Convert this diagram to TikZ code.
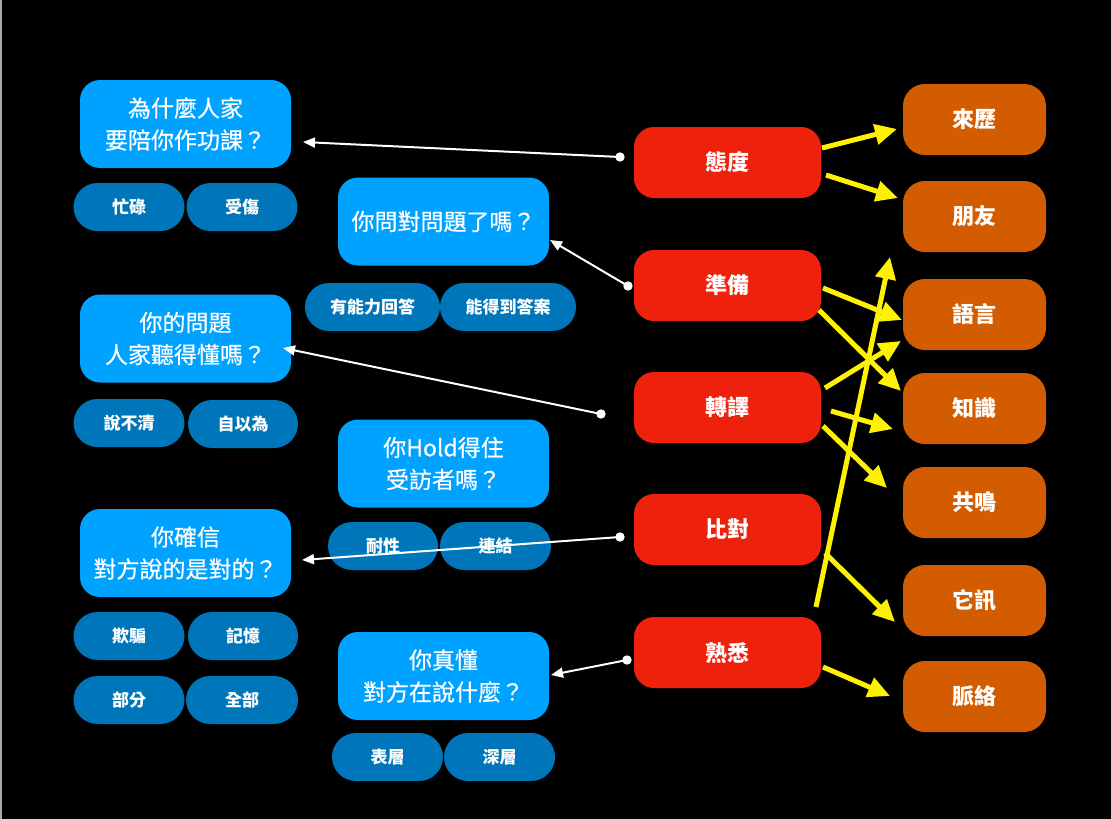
\documentclass[tikz,border=0pt]{standalone}
\usepackage{fontspec}
\setmainfont{Noto Sans CJK TC}
\newfontfamily\medfont[FakeBold=0.5]{Noto Sans CJK TC}
\usetikzlibrary{arrows.meta}
\definecolor{bigblue}{HTML}{00A2FF}
\definecolor{pillblue}{HTML}{0076BA}
\definecolor{redc}{HTML}{EE220C}
\definecolor{orangec}{HTML}{D45C00}
\definecolor{edgegray}{HTML}{A8A8A8}
\begin{document}
\begin{tikzpicture}[x=1pt,y=-1pt,
  bigbox/.style={fill=bigblue, rounded corners=20pt, minimum width=211pt, minimum height=88pt, text=white, align=center, inner sep=0pt, font=\medfont\fontsize{23}{32}\selectfont},
  pill/.style={fill=pillblue, rounded corners=24pt, minimum width=111pt, minimum height=48pt, text=white, inner sep=0pt, font=\bfseries\fontsize{17}{20}\selectfont},
  widepill/.style={pill, minimum width=135pt},
  redbox/.style={fill=redc, rounded corners=20pt, minimum width=187pt, minimum height=71pt, text=white, inner sep=0pt, font=\bfseries\fontsize{22}{26}\selectfont},
  orangebox/.style={fill=orangec, rounded corners=22pt, minimum width=143pt, minimum height=71pt, text=white, inner sep=0pt, font=\bfseries\fontsize{22}{26}\selectfont},
  wline/.style={draw=white, line width=2pt, -{Triangle[length=12pt,width=10pt]}},
  yline/.style={draw=yellow, line width=5pt, -{Triangle[length=22pt,width=20pt]}},
  wdot/.style={fill=white}
]
\useasboundingbox (0,0) rectangle (1111,819);
\fill[black] (0,0) rectangle (1111,819);
\fill[edgegray] (0,0) rectangle (2,819);

% big blue boxes
\node[bigbox] (b1) at (185.5,124) {為什麼人家\\要陪你作功課？};
\node[bigbox] (b2) at (443.5,221.5) {你問對問題了嗎？};
\node[bigbox] (b3) at (185.5,338.5) {你的問題\\人家聽得懂嗎？};
\node[bigbox] (b4) at (443.5,463.5) {你Hold得住\\受訪者嗎？};
\node[bigbox] (b5) at (185.5,553) {你確信\\對方說的是對的？};
\node[bigbox] (b6) at (443.5,676) {你真懂\\對方在說什麼？};

% pills
\node[pill] (p1) at (129,207) {忙碌};
\node[pill] (p2) at (242,207) {受傷};
\node[widepill] (p3) at (372.5,307) {有能力回答};
\node[widepill, minimum width=136pt] (p4) at (508,307) {能得到答案};
\node[pill] (p5) at (129,423) {說不清};
\node[pill, minimum width=110pt] (p6) at (243,424) {自以為};
\node[pill, minimum width=110pt] (p7) at (383,546) {耐性};
\node[pill] (p8) at (495.5,546) {連結};
\node[pill] (p9) at (129,636) {欺騙};
\node[pill, minimum width=110pt] (p10) at (243,636) {記憶};
\node[pill] (p11) at (129,700) {部分};
\node[pill, minimum width=112pt] (p12) at (242,700) {全部};
\node[pill] (p13) at (387.5,757) {表層};
\node[pill] (p14) at (499.5,757) {深層};

% red boxes
\node[redbox] (r1) at (727.5,162.5) {態度};
\node[redbox] (r2) at (727.5,285.5) {準備};
\node[redbox] (r3) at (727.5,407.5) {轉譯};
\node[redbox] (r4) at (727.5,529.5) {比對};
\node[redbox] (r5) at (727.5,652.5) {熟悉};

% orange boxes
\node[orangebox] (o1) at (974.5,119.5) {來歷};
\node[orangebox] (o2) at (974.5,216.5) {朋友};
\node[orangebox] (o3) at (974.5,314.5) {語言};
\node[orangebox] (o4) at (974.5,408.5) {知識};
\node[orangebox] (o5) at (974.5,502.5) {共鳴};
\node[orangebox] (o6) at (974.5,600.5) {它訊};
\node[orangebox] (o7) at (974.5,696.5) {脈絡};

% white connector ends
\coordinate (d1) at (620,157);  \coordinate (e1) at (303,142);
\coordinate (d2) at (628,286);  \coordinate (e2) at (550,240);
\coordinate (d3) at (601,414);  \coordinate (e3) at (283,348);
\coordinate (d4) at (620,537);  \coordinate (e4) at (302,560);
\coordinate (d5) at (627,660);  \coordinate (e5) at (551,675);

\draw[wline] (d1) -- (e1);
\draw[wline] (d2) -- (e2);
\draw[wline] (d3) -- (e3);
\draw[wline] (d4) -- (e4);
\draw[wline] (d5) -- (e5);
\foreach \d in {d1,d2,d3,d4,d5} \fill[wdot] (\d) circle (4.7pt);

% yellow connectors
\coordinate (ys1) at (822,148); \coordinate (yt1) at (897,129);
\coordinate (ys2) at (826,175); \coordinate (yt2) at (898,198);
\coordinate (ys3) at (823,288); \coordinate (yt3) at (902,320);
\coordinate (ys4) at (819,310); \coordinate (yt4) at (901,391);
\coordinate (ys5) at (825,388); \coordinate (yt5) at (901,341);
\coordinate (ys6) at (831,411); \coordinate (yt6) at (893,429);
\coordinate (ys7) at (823,426); \coordinate (yt7) at (887,488);
\coordinate (ys8) at (816,607); \coordinate (yt8) at (890,257);
\coordinate (ys9) at (825,553); \coordinate (yt9) at (895,622);
\coordinate (ys10) at (823,667); \coordinate (yt10) at (890,696);

\foreach \i in {1,...,10} \draw[yline] (ys\i) -- (yt\i);
\end{tikzpicture}
\end{document}
